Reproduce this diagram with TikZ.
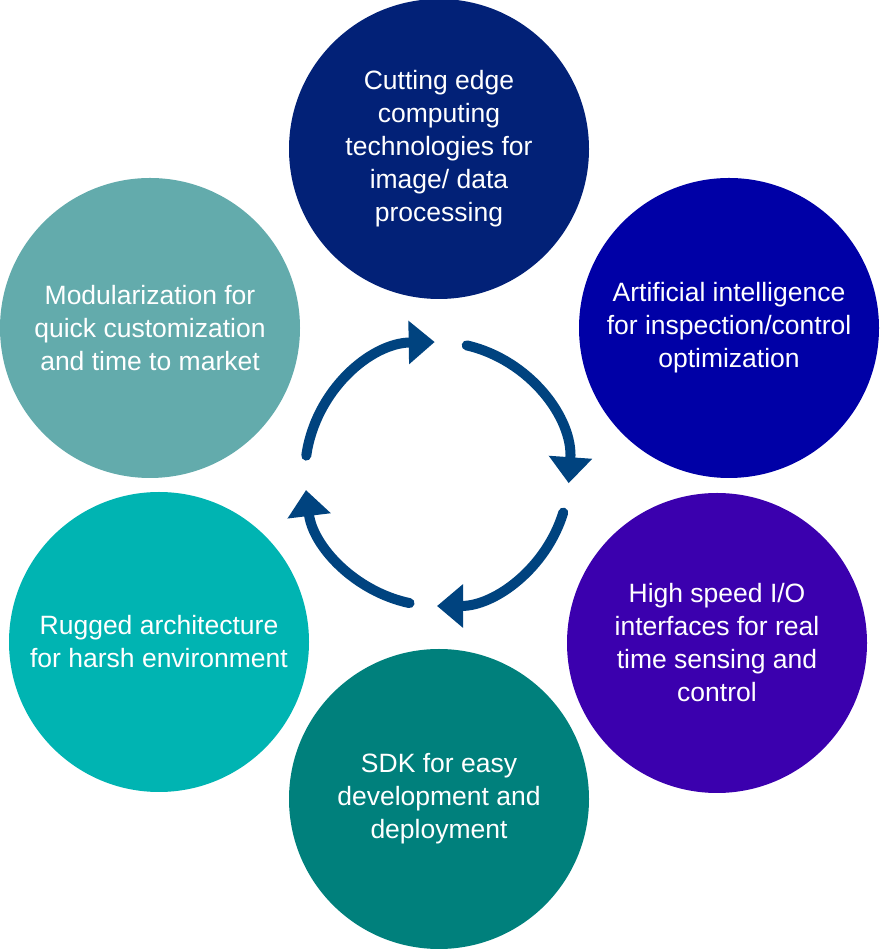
\documentclass[tikz,border=0pt]{standalone}
\usepackage{fontspec}
\setmainfont{Liberation Sans}
\usetikzlibrary{arrows.meta}
\definecolor{bleunuit}{HTML}{022177}
\definecolor{bleuroi}{HTML}{0000A6}
\definecolor{violet}{HTML}{3B00AE}
\definecolor{sarcelle}{HTML}{00807C}
\definecolor{turquoise}{HTML}{00B4B2}
\definecolor{grisvert}{HTML}{63ABAC}
\definecolor{bleufleche}{HTML}{00437F}
\begin{document}
\begin{tikzpicture}[x=1pt, y=1pt]
\tikzset{rond/.style={circle, minimum size=300pt, inner sep=0pt, text=white, align=center, font=\fontsize{26.5}{33}\selectfont}}
\tikzset{fleche/.style={draw=bleufleche, line width=10pt, line cap=round, -{Triangle[width=42pt, length=26pt, fill=bleufleche]}}}
\useasboundingbox (0, 0) rectangle (879, 950);
\node[rond, fill=bleunuit] (C1) at (439, 801) {Cutting edge\\computing\\technologies for\\image/ data\\processing};
\node[rond, fill=bleuroi] (C2) at (729, 622) {Artificial intelligence\\for inspection/control\\optimization};
\node[rond, fill=violet] (C3) at (717, 307) {High speed I/O\\interfaces for real\\time sensing and\\control};
\node[rond, fill=sarcelle] (C4) at (439, 151) {SDK for easy\\development and\\deployment};
\node[rond, fill=turquoise] (C5) at (159, 308) {Rugged architecture\\for harsh environment};
\node[rond, fill=grisvert] (C6) at (150, 622) {Modularization for\\quick customization\\and time to market};
\coordinate (O) at (437, 476);
\draw[fleche] ([shift={(77:132pt)}]O) arc[start angle=77, end angle=-4, radius=132pt];
\draw[fleche] ([shift={(-17:132pt)}]O) arc[start angle=-17, end angle=-90, radius=132pt];
\draw[fleche] ([shift={(-102:132pt)}]O) arc[start angle=-102, end angle=-173, radius=132pt];
\draw[fleche] ([shift={(172:132pt)}]O) arc[start angle=172, end angle=91, radius=132pt];
\end{tikzpicture}
\end{document}
